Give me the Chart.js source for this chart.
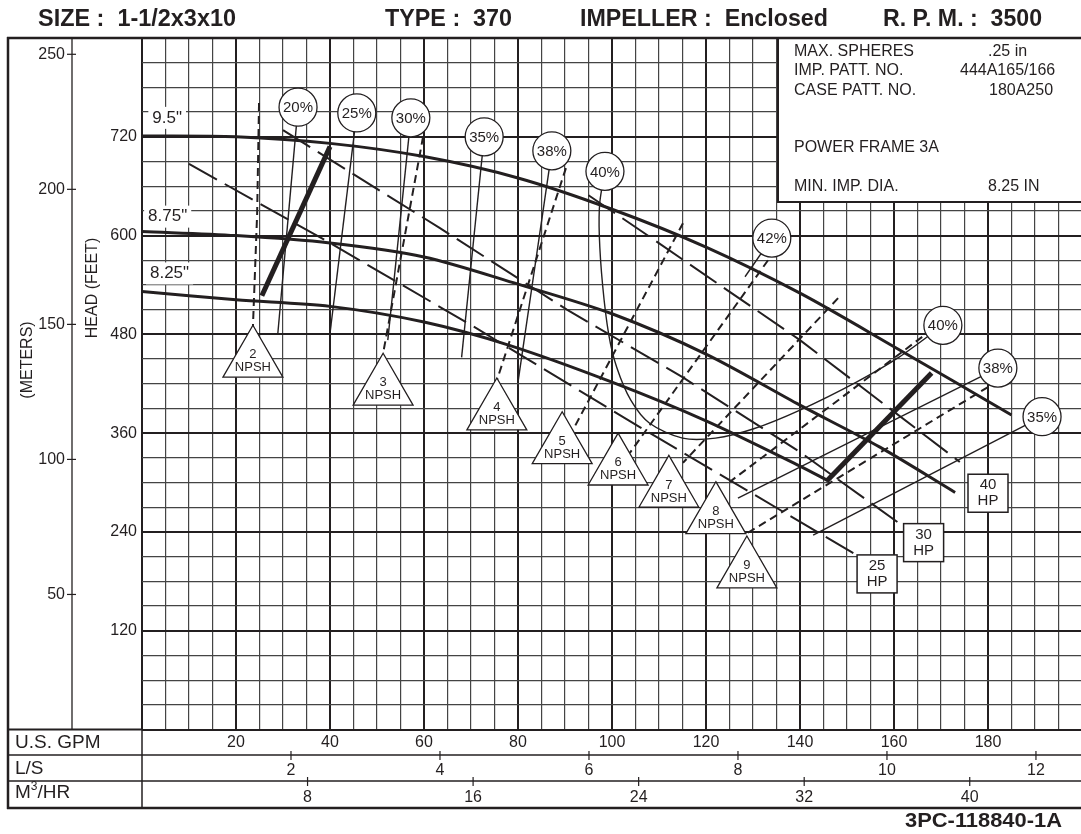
<!DOCTYPE html>
<html>
<head>
<meta charset="utf-8">
<script src="https://cdn.jsdelivr.net/npm/chart.js@4.4.1/dist/chart.umd.min.js"></script>
<style>
  html, body { margin: 0; padding: 0; background: #fff; }
  #wrap { width: 1081px; height: 834px; }
</style>
</head>
<body>
<div id="wrap"><canvas id="pump" width="1081" height="834"></canvas></div>
<script>
// ---- values (x = U.S. GPM, y = head in feet) ----
const GPM_LABELS = [20, 40, 60, 80, 100, 120, 140, 160, 180];
const LPS_LABELS = [2, 4, 6, 8, 10, 12];
const M3H_LABELS = [8, 16, 24, 32, 40];
const FEET_LABELS = [120, 240, 360, 480, 600, 720];
const METER_LABELS = [50, 100, 150, 200, 250];

// impeller head curves
const head950 = [[0,721],[20,720],[40,712],[60,696],[80,670],[100,632],[120,586],[140,530],[160,465],[185,382]];
const head875 = [[0,605],[20,600],[40,591],[60,574],[80,541],[100,505],[120,456],[140,394],[157,343],[173,288]];
const head825 = [[0,532],[20,522],[40,514],[60,495],[78,467],[100,422],[120,375],[140,320],[146,302]];
const headNames = ['9.5"', '8.75"', '8.25"'];
const headNamePos = [[2.2,743],[1.3,623],[1.7,554]];

// heavy limit lines
const bepLeft = [[25.5,527],[40,708]];
const bepRight = [[145.7,302],[168,433]];

// efficiency lines (each one starts at its label circle)
const effNames = ['20%','25%','30%','35%','38%','40%','42%','40%','38%','35%'];
const effCircles = [[33.2,756],[45.7,749],[57.2,743],[72.8,720],[87.2,703],[98.5,678],[134,597],[170.4,491],[182.1,439],[191.5,380]];
const eff20 = [[33.2,756],[28.9,481]];
const eff25 = [[45.7,749],[40,481]];
const eff30 = [[57.2,743],[52.3,473]];
const eff35 = [[72.8,720],[68,452]];
const eff38 = [[87.2,703],[80,422]];
const eff40 = [[98.5,678],[97.4,640],[97.3,600],[98,540],[99.3,480],[101,440],[104,400],[108,372],[115,354],[122,354],[130,365],[140,388],[152,422],[161,452],[170.4,491]];
const eff42 = [[134,597],[128.3,550]];
const eff38r = [[182.1,439],[126.8,281]];
const eff35r = [[191.5,380],[142.8,236]];

// NPSH lines and their triangle markers
const npshNames = ['2','3','4','5','6','7','8','9'];
const npshMarks = [[23.6,449],[51.3,415],[75.5,385],[89.4,344],[101.3,318],[112.1,291],[122.1,259],[128.7,193]];
const npsh2 = [[24.9,761],[24.5,627],[23.6,489]];
const npsh3 = [[59.8,720],[51.3,457]];
const npsh4 = [[90.2,682],[75.5,424]];
const npsh5 = [[115.1,615],[91.7,364]];
const npsh6 = [[133.2,570],[103.8,336]];
const npsh7 = [[148.1,524],[115.1,324]];
const npsh8 = [[166,477],[125.1,301]];
const npsh9 = [[180,416],[128.9,239]];

// horsepower lines and boxes
const hpNames = ['25','30','40'];
const hpBoxes = [[156.4,189],[166.3,227],[180,287]];
const hp25 = [[10,687],[40,591],[70.4,490],[106,367],[152,212]];
const hp30 = [[30,728],[63.4,609],[90.4,510],[115,428],[140,337],[161.7,248]];
const hp40 = [[95,649],[106.6,604],[140,473],[174,325]];

const infoLeft = ['MAX. SPHERES', 'IMP. PATT. NO.', 'CASE PATT. NO.', 'POWER FRAME 3A', 'MIN. IMP. DIA.'];
const infoRight = ['.25 in', '444A165/166', '180A250', '', '8.25 IN'];

const GPM_PER_LPS = 15.8503;
const GPM_PER_M3H = 4.40287;
const FT_PER_M = 3.28084;

// ---- drawing ----
const INK = '#231f20';
const FONT = '"Liberation Sans", Arial, Helvetica, sans-serif';
const XMAX = 939 / 4.7;

const pts = arr => arr.map(([x, y]) => ({ x, y }));

function line(data, width, dash, tension) {
  return {
    data: pts(data), showLine: true, borderColor: INK, borderWidth: width,
    borderDash: dash || [], pointRadius: 0, tension: tension || 0, fill: false, order: 5
  };
}

function fitText(ctx, str, x, y, w, font) {
  ctx.save();
  ctx.font = font;
  ctx.textAlign = 'left';
  ctx.textBaseline = 'middle';
  const m = ctx.measureText(str).width;
  ctx.translate(x, y);
  ctx.scale(w / m, 1);
  ctx.fillText(str, 0, 0);
  ctx.restore();
}

function hLine(ctx, x1, x2, y, w) {
  ctx.lineWidth = w; ctx.beginPath(); ctx.moveTo(x1, y); ctx.lineTo(x2, y); ctx.stroke();
}
function vLine(ctx, x, y1, y2, w) {
  ctx.lineWidth = w; ctx.beginPath(); ctx.moveTo(x, y1); ctx.lineTo(x, y2); ctx.stroke();
}

const decor = {
  id: 'decor',
  beforeDraw(chart) {
    const ctx = chart.ctx;
    ctx.save();
    ctx.fillStyle = '#fff';
    ctx.fillRect(0, 0, chart.width, chart.height);
    ctx.restore();
  },
  afterDatasetsDraw(chart) {
    const { ctx, scales: { x, y } } = chart;
    ctx.save();
    ctx.fillStyle = INK;
    ctx.strokeStyle = INK;
    ctx.textBaseline = 'middle';

    // impeller diameter labels
    ctx.font = '17px ' + FONT;
    ctx.textAlign = 'left';
    headNames.forEach((n, i) => {
      const px = x.getPixelForValue(headNamePos[i][0]);
      const py = y.getPixelForValue(headNamePos[i][1]);
      const w = ctx.measureText(n).width;
      ctx.fillStyle = '#fff';
      ctx.fillRect(px - 4, py - 11, w + 8, 22);
      ctx.fillStyle = INK;
      ctx.fillText(n, px, py);
    });

    // efficiency circle texts
    ctx.font = '15px ' + FONT;
    ctx.textAlign = 'center';
    effNames.forEach((n, i) => {
      ctx.fillText(n, x.getPixelForValue(effCircles[i][0]), y.getPixelForValue(effCircles[i][1]) + 1);
    });

    // NPSH triangle texts
    ctx.font = '13px ' + FONT;
    npshNames.forEach((n, i) => {
      const px = x.getPixelForValue(npshMarks[i][0]);
      const py = y.getPixelForValue(npshMarks[i][1]);
      ctx.fillText(n, px, py - 5);
      ctx.fillText('NPSH', px, py + 8);
    });

    // HP boxes
    hpNames.forEach((n, i) => {
      const px = x.getPixelForValue(hpBoxes[i][0]);
      const py = y.getPixelForValue(hpBoxes[i][1]);
      ctx.fillStyle = '#fff';
      ctx.fillRect(px - 20, py - 19, 40, 38);
      ctx.lineWidth = 1.5;
      ctx.strokeRect(px - 20, py - 19, 40, 38);
      ctx.fillStyle = INK;
      ctx.font = '15px ' + FONT;
      ctx.fillText(n, px, py - 8);
      ctx.fillText('HP', px, py + 8);
    });

    // info box
    ctx.fillStyle = '#fff';
    ctx.fillRect(778, 38, 320, 164);
    ctx.lineWidth = 2;
    ctx.strokeRect(778, 38, 320, 164);
    ctx.fillStyle = INK;
    ctx.font = '16px ' + FONT;
    ctx.textAlign = 'left';
    const rowsY = [52, 71, 91, 148, 187];
    const rightX = [988, 960, 989, 0, 988];
    infoLeft.forEach((t, i) => {
      ctx.fillText(t, 794, rowsY[i]);
      if (infoRight[i]) ctx.fillText(infoRight[i], rightX[i], rowsY[i]);
    });
    ctx.restore();
  },
  afterDraw(chart) {
    const { ctx, scales: { x, y }, chartArea: a } = chart;
    ctx.save();
    ctx.strokeStyle = INK;
    ctx.fillStyle = INK;

    // outer frame and table rows
    const bot = 808, r1 = 755, r2 = 781;
    hLine(ctx, 7, 1081, a.top, 2.5);
    vLine(ctx, 8, a.top - 1, bot + 1, 2.5);
    hLine(ctx, 7, 1081, bot, 2.5);
    hLine(ctx, 8, a.left, a.bottom, 2);
    hLine(ctx, 8, 1081, r1, 1.5);
    hLine(ctx, 8, 1081, r2, 1.5);
    vLine(ctx, a.left, a.bottom, bot, 1.5);

    // meters axis
    const mx = 72;
    vLine(ctx, mx, a.top, a.bottom, 1.3);
    ctx.font = '16px ' + FONT;
    ctx.textAlign = 'right';
    ctx.textBaseline = 'middle';
    METER_LABELS.forEach(m => {
      const py = y.getPixelForValue(m * FT_PER_M);
      hLine(ctx, mx - 5, mx + 4, py, 1.2);
      ctx.fillText(String(m), mx - 7, py);
    });

    // feet labels
    FEET_LABELS.forEach(f => ctx.fillText(String(f), a.left - 5, y.getPixelForValue(f)));

    // axis titles
    ctx.textAlign = 'center';
    ctx.save();
    ctx.translate(28, 360); ctx.rotate(-Math.PI / 2);
    ctx.fillText('(METERS)', 0, 0);
    ctx.restore();
    ctx.save();
    ctx.translate(93, 288); ctx.rotate(-Math.PI / 2);
    ctx.fillText('HEAD (FEET)', 0, 0);
    ctx.restore();

    // flow rows
    GPM_LABELS.forEach(v => ctx.fillText(String(v), x.getPixelForValue(v), 743));
    LPS_LABELS.forEach(v => {
      const px = x.getPixelForValue(v * GPM_PER_LPS);
      vLine(ctx, px, r1 - 4, r1 + 5, 1.2);
      ctx.fillText(String(v), px, 771);
    });
    M3H_LABELS.forEach(v => {
      const px = x.getPixelForValue(v * GPM_PER_M3H);
      vLine(ctx, px, r2 - 4, r2 + 5, 1.2);
      ctx.fillText(String(v), px, 798);
    });

    ctx.textAlign = 'left';
    ctx.font = '19px ' + FONT;
    ctx.fillText('U.S. GPM', 15, 743);
    ctx.fillText('L/S', 15, 769);
    ctx.fillText('M', 15, 793);
    const mw = ctx.measureText('M').width;
    ctx.font = '12px ' + FONT;
    ctx.fillText('3', 15 + mw, 787);
    const sw = ctx.measureText('3').width;
    ctx.font = '19px ' + FONT;
    ctx.fillText('/HR', 15 + mw + sw, 793);

    // header and drawing number
    const bold = 'bold 24px ' + FONT;
    fitText(ctx, 'SIZE :  1-1/2x3x10', 38, 19, 198, bold);
    fitText(ctx, 'TYPE :  370', 385, 19, 127, bold);
    fitText(ctx, 'IMPELLER :  Enclosed', 580, 19, 248, bold);
    fitText(ctx, 'R. P. M. :  3500', 883, 19, 159, bold);
    fitText(ctx, '3PC-118840-1A', 905, 821, 157, 'bold 21px ' + FONT);
    ctx.restore();
  }
};

const datasets = [
  { data: pts(effCircles), pointStyle: 'circle', pointRadius: 19, backgroundColor: '#fff',
    borderColor: INK, borderWidth: 1.3, showLine: false, order: 0 },
  { data: pts(npshMarks), pointStyle: 'triangle', pointRadius: 34.6, backgroundColor: '#fff',
    borderColor: INK, borderWidth: 1.3, showLine: false, order: 1 },
  line(head950, 3, null, 0.3),
  line(head875, 3, null, 0.3),
  line(head825, 3, null, 0.3),
  line(bepLeft, 5),
  line(bepRight, 5),
  line(eff20, 1.4), line(eff25, 1.4), line(eff30, 1.4), line(eff35, 1.4), line(eff38, 1.4),
  line(eff40, 1.4, null, 0.3), line(eff42, 1.4), line(eff38r, 1.4), line(eff35r, 1.4),
  line(npsh2, 2, [8, 5]), line(npsh3, 2, [8, 5]), line(npsh4, 2, [8, 5]), line(npsh5, 2, [8, 5]),
  line(npsh6, 2, [8, 5]), line(npsh7, 2, [8, 5]), line(npsh8, 2, [8, 5]), line(npsh9, 2, [8, 5]),
  line(hp25, 2, [32, 9]), line(hp30, 2, [32, 9]), line(hp40, 2, [32, 9])
];

new Chart(document.getElementById('pump'), {
  type: 'scatter',
  data: { datasets },
  options: {
    responsive: false,
    animation: false,
    events: [],
    layout: { autoPadding: false, padding: { left: 142, top: 38, right: 0, bottom: 104.5 } },
    plugins: { legend: { display: false }, tooltip: { enabled: false } },
    scales: {
      x: {
        type: 'linear', min: 0, max: XMAX,
        afterBuildTicks: s => { s.ticks = []; for (let v = 0; v <= 195; v += 5) s.ticks.push({ value: v }); },
        ticks: { display: false },
        border: { display: false },
        grid: {
          drawTicks: false,
          color: c => (c.tick && c.tick.value % 20 === 0) ? INK : '#444',
          lineWidth: c => (c.tick && c.tick.value % 20 === 0) ? 2 : 1.2
        }
      },
      y: {
        type: 'linear', min: 0, max: 840,
        afterBuildTicks: s => { s.ticks = []; for (let v = 0; v <= 840; v += 30) s.ticks.push({ value: v }); },
        ticks: { display: false },
        border: { display: false },
        grid: {
          drawTicks: false,
          color: c => (c.tick && c.tick.value % 120 === 0) ? INK : '#444',
          lineWidth: c => (c.tick && c.tick.value % 120 === 0) ? 2 : 1.2
        }
      }
    }
  },
  plugins: [decor]
});
</script>
</body>
</html>
